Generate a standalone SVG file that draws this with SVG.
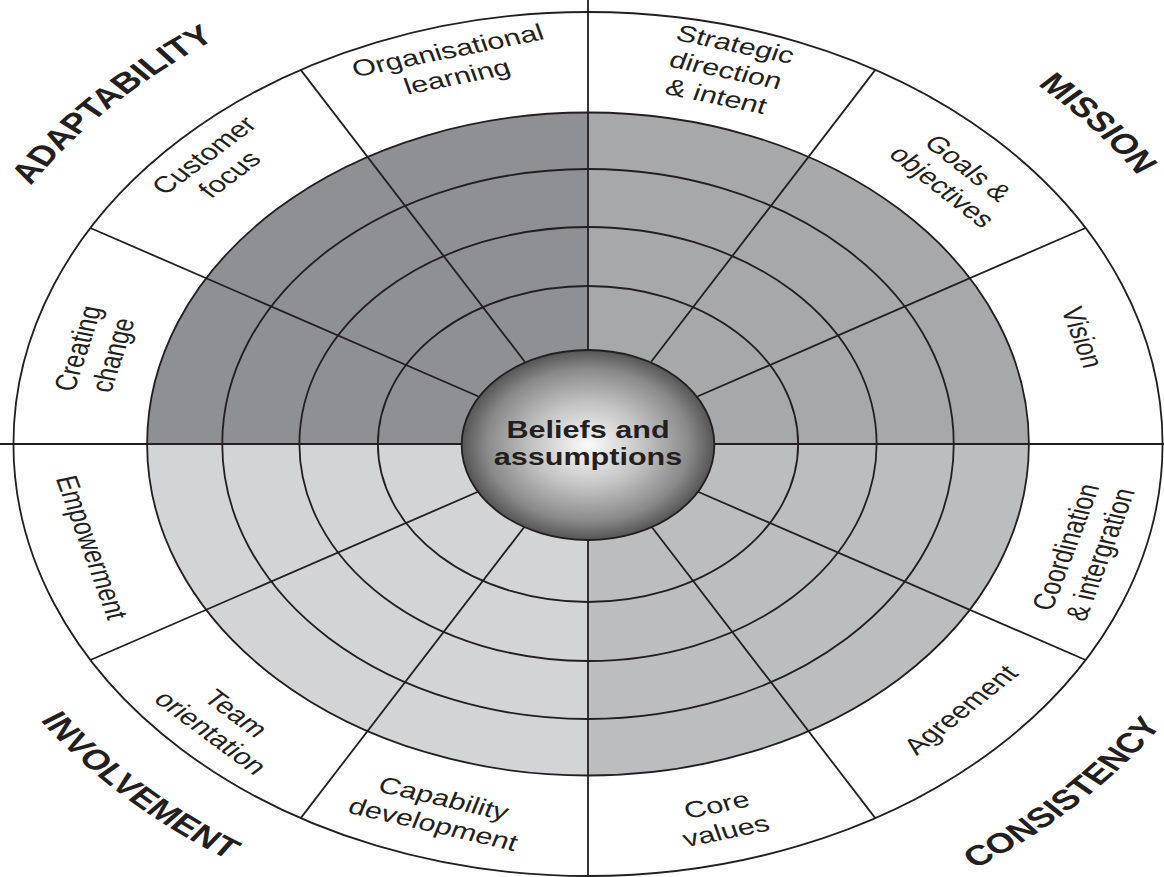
<svg xmlns="http://www.w3.org/2000/svg" width="1164" height="877" viewBox="0 0 1164 877">
<style>
.ln{stroke:#231f20;stroke-width:1.8;fill:none;vector-effect:non-scaling-stroke}
.lbl{font-family:"Liberation Sans",Arial,sans-serif;font-size:23px;fill:#231f20;text-anchor:middle}
.cat{font-family:"Liberation Sans",Arial,sans-serif;font-size:28px;font-weight:bold;fill:#231f20;text-anchor:middle}
.core{font-family:"Liberation Sans",Arial,sans-serif;font-size:23px;font-weight:bold;fill:#231f20;text-anchor:middle}
</style>
<defs>
<radialGradient id="sphere" cx="0.5" cy="0.5" r="0.5">
<stop offset="0" stop-color="#fbfbfb"/>
<stop offset="0.45" stop-color="#c2c2c2"/>
<stop offset="0.8" stop-color="#8a8a8a"/>
<stop offset="1" stop-color="#555555"/>
</radialGradient>
<path id="pA" d="M -478.4,-114.9 A 491 491 0 0 1 -139.7,-471.7"/>
<path id="pM" d="M 169.4,-462.9 A 493 493 0 0 1 485.7,-84.8"/>
<path id="pC" d="M 138.9,495.9 A 515 515 0 0 0 498.9,127.7"/>
<path id="pI" d="M -478.2,131.7 A 496 496 0 0 0 -125.0,480.0"/>
</defs>
<rect x="0" y="0" width="1164" height="877" fill="#ffffff"/>
<g transform="translate(588,444) scale(1.33,1)">
<g id="rings">
<circle class="ln" cx="0" cy="0" r="432" fill="#ffffff" style="fill:#ffffff"/>
<path id="q-adaptability" d="M0,0 L-331.5,0 A331.5,331.5 0 0 1 0,-331.5 Z" fill="#8f9093"/>
<path id="q-mission" d="M0,0 L0,-331.5 A331.5,331.5 0 0 1 331.5,0 Z" fill="#a7a8aa"/>
<path id="q-consistency" d="M0,0 L331.5,0 A331.5,331.5 0 0 1 0,331.5 Z" fill="#bcbdbf"/>
<path id="q-involvement" d="M0,0 L0,331.5 A331.5,331.5 0 0 1 -331.5,0 Z" fill="#d3d4d6"/>
<circle class="ln" cx="0" cy="0" r="331.5"/>
<circle class="ln" cx="0" cy="0" r="275"/>
<circle class="ln" cx="0" cy="0" r="217"/>
<circle class="ln" cx="0" cy="0" r="158"/>
</g>
<g id="connectors">
<line class="ln" x1="0" y1="-444" x2="0" y2="433"/>
<line class="ln" x1="-442.1" y1="0" x2="433.1" y2="0"/>
<line class="ln" x1="82.27" y1="-47.5" x2="374.1" y2="-216"/>
<line class="ln" x1="47.5" y1="-82.27" x2="216" y2="-374.1"/>
<line class="ln" x1="-47.5" y1="-82.27" x2="-216" y2="-374.1"/>
<line class="ln" x1="-82.27" y1="-47.5" x2="-374.1" y2="-216"/>
<line class="ln" x1="-82.27" y1="47.5" x2="-374.1" y2="216"/>
<line class="ln" x1="-47.5" y1="82.27" x2="-216" y2="374.1"/>
<line class="ln" x1="47.5" y1="82.27" x2="216" y2="374.1"/>
<line class="ln" x1="82.27" y1="47.5" x2="374.1" y2="216"/>
</g>
<g id="beliefs">
<circle cx="0" cy="1" r="95" fill="url(#sphere)" class="ln" style="fill:url(#sphere)"/>
<text class="core"><tspan x="0" y="-5.7">Beliefs and</tspan><tspan x="0" y="21">assumptions</tspan></text>
</g>
<g id="seg-organisational-learning"><text class="lbl" transform="translate(-102,-380.6) rotate(-15)"><tspan x="0" y="-5.5">Organisational</tspan><tspan x="0" y="21.5">learning</tspan></text></g>
<g id="seg-customer-focus"><text class="lbl" transform="translate(-279.3,-279.3) rotate(-45)"><tspan x="0" y="-5.5">Customer</tspan><tspan x="0" y="21.5">focus</tspan></text></g>
<g id="seg-creating-change"><text class="lbl" transform="translate(-370.6,-92.4) rotate(-76)"><tspan x="0" y="-5.5">Creating</tspan><tspan x="0" y="21.5">change</tspan></text></g>
<g id="seg-strategic-direction"><text class="lbl" transform="translate(103.7,-373.9) rotate(15.5)"><tspan x="0" y="-19">Strategic</tspan><tspan x="0" y="8">direction</tspan><tspan x="0" y="35">&amp; intent</tspan></text></g>
<g id="seg-goals-objectives"><text class="lbl" transform="translate(276.2,-266.8) rotate(46)"><tspan x="0" y="-5.5">Goals &amp;</tspan><tspan x="0" y="21.5">objectives</tspan></text></g>
<g id="seg-vision"><text class="lbl" transform="translate(372,-106.7) rotate(74)"><tspan x="0" y="8">Vision</tspan></text></g>
<g id="seg-empowerment"><text class="lbl" transform="translate(-372.9,103.4) rotate(74.5)"><tspan x="0" y="8">Empowerment</tspan></text></g>
<g id="seg-team-orientation"><text class="lbl" transform="translate(-274,278.9) rotate(44.5)"><tspan x="0" y="-5.5">Team</tspan><tspan x="0" y="21.5">orientation</tspan></text></g>
<g id="seg-capability-development"><text class="lbl" transform="translate(-112.3,367.2) rotate(17)"><tspan x="0" y="-5.5">Capability</tspan><tspan x="0" y="21.5">development</tspan></text></g>
<g id="seg-core-values"><text class="lbl" transform="translate(100.2,373.8) rotate(-15)"><tspan x="0" y="-5.5">Core</tspan><tspan x="0" y="21.5">values</tspan></text></g>
<g id="seg-agreement"><text class="lbl" transform="translate(280,265.7) rotate(-46.5)"><tspan x="0" y="8">Agreement</tspan></text></g>
<g id="seg-coordination"><text class="lbl" transform="translate(372,106.7) rotate(-74)"><tspan x="0" y="-5.5">Coordination</tspan><tspan x="0" y="21.5">&amp; intergration</tspan></text></g>
<g id="cat-adaptability"><text class="cat"><textPath href="#pA" startOffset="50%">ADAPTABILITY</textPath></text></g>
<g id="cat-mission"><text class="cat"><textPath href="#pM" startOffset="50%">MISSION</textPath></text></g>
<g id="cat-consistency"><text class="cat"><textPath href="#pC" startOffset="50%">CONSISTENCY</textPath></text></g>
<g id="cat-involvement"><text class="cat"><textPath href="#pI" startOffset="50%">INVOLVEMENT</textPath></text></g>
</g>
</svg>
